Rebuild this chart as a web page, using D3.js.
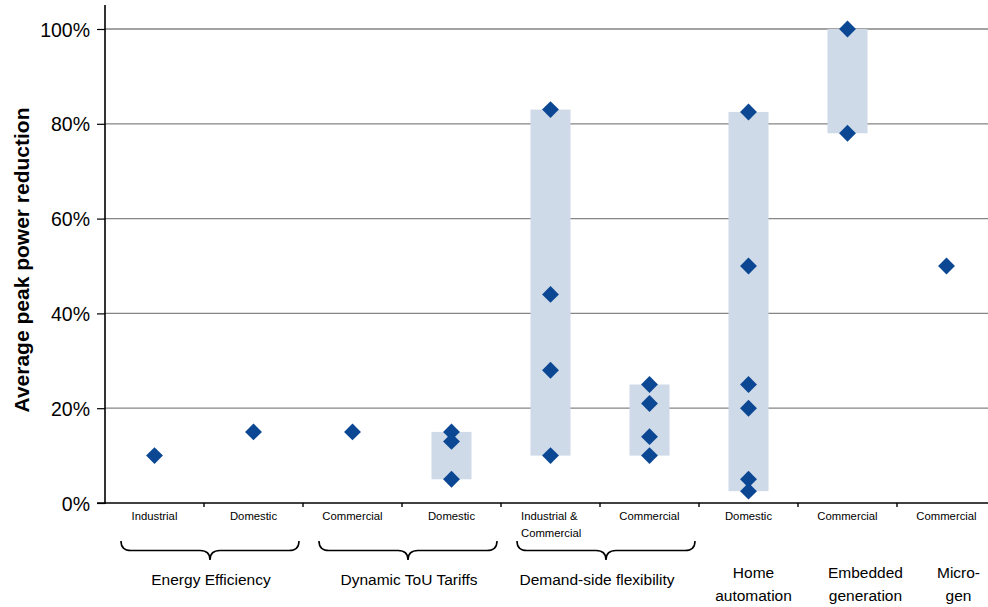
<!DOCTYPE html>
<html>
<head>
<meta charset="utf-8">
<script src="https://cdn.jsdelivr.net/npm/d3@7"></script>
<style>
  html, body { margin: 0; padding: 0; background: #fff; }
  svg { display: block; font-family: "Liberation Sans", Arial, sans-serif; }
</style>
</head>
<body>
<svg id="chart" width="988" height="607"></svg>
<script>
// Sub-categories along the x axis (one band each)
const categories = ["Industrial", "Domestic", "Commercial", "Domestic", "Industrial &\nCommercial",
                    "Commercial", "Domestic", "Commercial", "Commercial"];

// Reported peak power reductions (%) per sub-category
const values = [
  [10],
  [15],
  [15],
  [15, 13, 5],
  [83, 44, 28, 10],
  [25, 21, 14, 10],
  [82.5, 50, 25, 20, 5, 2.5],
  [100, 78],
  [50]
];

// Technology groups and the bands they cover
const groupNames = ["Energy Efficiency", "Dynamic ToU Tariffs", "Demand-side flexibility",
                    "Home\nautomation", "Embedded\ngeneration", "Micro-\ngen"];
const groupFirst = [0, 2, 4, 6, 7, 8];
const groupLast  = [1, 3, 5, 6, 7, 8];

const yTicks = [0, 20, 40, 60, 80, 100];
const yTitle = "Average peak power reduction";

// ---- layout ----
const W = 988, H = 607;
const axisX = 105, axisY = 503, topY = 29, rightX = 996;
const barColor = "#cfdae9", markColor = "#0b4793", gridColor = "#858585";
// small horizontal nudges for the group captions
const groupLabelDx = [7, 7, -3, 5, 18, 12];

const svg = d3.select("#chart");

const x = d3.scaleBand().domain(d3.range(categories.length)).range([axisX, rightX]).padding(0);
const y = d3.scaleLinear().domain([0, 100]).range([axisY, topY]);

// gridlines
svg.append("g").selectAll("line")
  .data(yTicks.filter(t => t > 0))
  .join("line")
  .attr("x1", axisX).attr("x2", rightX - 3)
  .attr("y1", d => y(d)).attr("y2", d => y(d))
  .attr("stroke", gridColor).attr("stroke-width", 1.3);

// range bars (min to max where several values exist)
const bw = 40;
svg.append("g").selectAll("rect")
  .data(values.map((v, i) => ({ i, v })).filter(d => d.v.length > 1))
  .join("rect")
  .attr("x", d => x(d.i) + x.bandwidth() / 2 - bw / 2)
  .attr("width", bw)
  .attr("y", d => y(d3.max(d.v)))
  .attr("height", d => y(d3.min(d.v)) - y(d3.max(d.v)))
  .attr("fill", barColor);

// y axis
const yAxis = d3.axisLeft(y).tickValues(yTicks).tickSize(8).tickFormat(d => d + "%");
const gy = svg.append("g").attr("transform", `translate(${axisX},0)`).call(yAxis);
gy.select(".domain").remove();
gy.selectAll(".tick line").attr("stroke", "#000").attr("stroke-width", 1.2);
gy.selectAll(".tick text")
  .attr("x", -15).attr("dy", "0.36em")
  .style("font-size", "19.5px").style("font-family", "'Liberation Sans', Arial, sans-serif")
  .attr("fill", "#000");
svg.append("line")
  .attr("x1", axisX).attr("x2", axisX).attr("y1", 5).attr("y2", axisY + 1)
  .attr("stroke", "#000").attr("stroke-width", 1.6);

// x axis line with ticks at band boundaries
svg.append("line")
  .attr("x1", axisX - 8).attr("x2", rightX - 3).attr("y1", axisY).attr("y2", axisY)
  .attr("stroke", "#000").attr("stroke-width", 1.6);
svg.append("g").selectAll("line")
  .data(d3.range(1, categories.length))
  .join("line")
  .attr("x1", d => x(d)).attr("x2", d => x(d))
  .attr("y1", axisY).attr("y2", axisY + 4)
  .attr("stroke", "#000").attr("stroke-width", 1.4);

// data points as diamonds
const diamond = d3.symbol().type(d3.symbolSquare).size(142);
const pts = values.flatMap((v, i) => v.map(val => ({ i, val })));
svg.append("g").selectAll("path")
  .data(pts)
  .join("path")
  .attr("d", diamond)
  .attr("transform", d => `translate(${x(d.i) + x.bandwidth() / 2},${y(d.val)}) rotate(45)`)
  .attr("fill", markColor);

// y axis title
svg.append("text")
  .attr("transform", "translate(29,260) rotate(-90)")
  .attr("text-anchor", "middle")
  .style("font-size", "21px").style("font-weight", "bold")
  .text(yTitle);

// category labels
categories.forEach((c, i) => {
  const lines = c.split("\n");
  const multi = lines.length > 1;
  const t = svg.append("text")
    .attr("y", 520)
    .attr("text-anchor", multi ? "start" : "middle")
    .style("font-size", "11.3px").attr("fill", "#000");
  lines.forEach((l, k) => {
    t.append("tspan").attr("x", multi ? x(i) + 20 : x(i) + x.bandwidth() / 2)
      .attr("dy", k ? 17 : 0).text(l);
  });
});

// curly brace under a multi-band group
function bracePath(x0, x1, top, bottom) {
  const mid = (top + bottom) / 2;
  const tip = (x0 + x1) / 2;
  const r = 10;
  const p = d3.path();
  p.moveTo(x0, top);
  p.quadraticCurveTo(x0, mid, x0 + r, mid);
  p.lineTo(tip - r, mid);
  p.quadraticCurveTo(tip, mid, tip, bottom);
  p.quadraticCurveTo(tip, mid, tip + r, mid);
  p.lineTo(x1 - r, mid);
  p.quadraticCurveTo(x1, mid, x1, top);
  return p.toString();
}

groupNames.forEach((g, gi) => {
  const x0 = x(groupFirst[gi]);
  const x1 = x(groupLast[gi]) + x.bandwidth();
  const cx = (x0 + x1) / 2 + groupLabelDx[gi];
  if (groupLast[gi] > groupFirst[gi]) {
    svg.append("path")
      .attr("d", bracePath(x0 + 16, x1 - 4, 541, 560))
      .attr("fill", "none").attr("stroke", "#000").attr("stroke-width", 1.6);
  }
  const lines = g.split("\n");
  const t = svg.append("text")
    .attr("text-anchor", "middle")
    .style("font-size", "15.5px").attr("fill", "#000");
  lines.forEach((l, k) => {
    t.append("tspan").attr("x", cx)
      .attr("y", lines.length > 1 ? 578 + k * 23 : 585).text(l);
  });
});
</script>
</body>
</html>
